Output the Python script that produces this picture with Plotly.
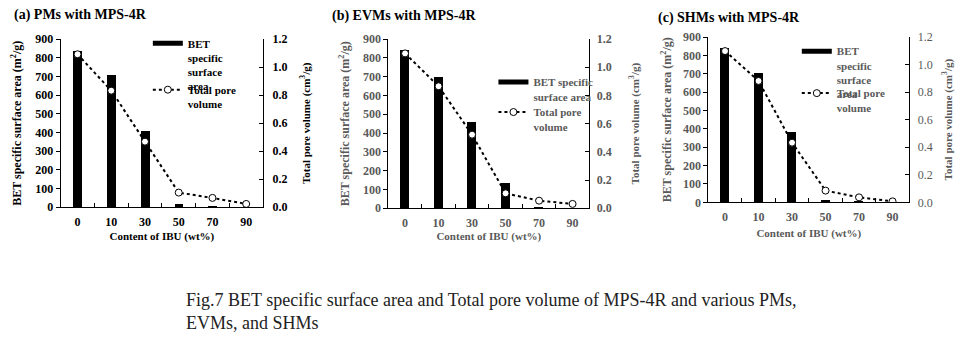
import plotly.graph_objects as go

CATEGORIES = ["0", "10", "30", "50", "70", "90"]

# BET specific surface area (m2/g)
BET_PM = [837, 709, 409, 14, 5, 0]
BET_EVM = [840, 700, 459, 133, 5, 0]
BET_SHM = [842, 702, 381, 11, 4, 0]

# Total pore volume (cm3/g)
TPV_PM = [1.093, 0.833, 0.469, 0.105, 0.067, 0.024]
TPV_EVM = [1.098, 0.865, 0.522, 0.106, 0.054, 0.031]
TPV_SHM = [1.098, 0.881, 0.433, 0.085, 0.036, 0.007]

TITLES = ["(a) PMs with MPS-4R", "(b) EVMs with MPS-4R", "(c) SHMs with MPS-4R"]
BET_NAMES = [
    "BET<br>specific<br>surface<br>area",
    "BET specific<br>surface area",
    "BET<br>specific<br>surface<br>area",
]
TPV_NAME = "Total pore<br>volume"

SERIF = "Liberation Serif"
GREY = "#595959"

# panel geometry in paper coords: x domain, y domain, text colour
PANELS = [
    ([0.0632, 0.2740], [0.3974, 0.8858], "black"),
    ([0.4045, 0.6139], [0.3945, 0.8866], GREY),
    ([0.7378, 0.9472], [0.4119, 0.8924], GREY),
]
# (x, y) of the bar legend and the line legend of each panel
LEGEND_BAR = [(0.154, 0.914), (0.514, 0.801), (0.830, 0.891)]
LEGEND_LINE = [(0.154, 0.779), (0.514, 0.714), (0.830, 0.769)]
TITLE_POS = [(0.0837, 0.956), (0.4212, 0.953), (0.7595, 0.947)]
XTITLE_STANDOFF = [4, 0, 6]
LTITLE_STANDOFF = [11, 10, 8]
RTITLE_STANDOFF = [15, 20, 12]
RTICK_STANDOFF = [6, 4, 5]

bets = [BET_PM, BET_EVM, BET_SHM]
tpvs = [TPV_PM, TPV_EVM, TPV_SHM]

fig = go.Figure()
layout = {}

for i in range(3):
    xd, yd, col = PANELS[i]
    xname = "x" if i == 0 else f"x{i + 1}"
    yl = 2 * i + 1
    yr = 2 * i + 2
    yl_name = "y" if yl == 1 else f"y{yl}"
    yr_name = f"y{yr}"
    leg_bar = "legend" if i == 0 else f"legend{2 * i + 1}"
    leg_line = f"legend{2 * i + 2}"

    fig.add_trace(go.Bar(
        x=CATEGORIES, y=bets[i], xaxis=xname, yaxis=yl_name,
        width=0.26, marker=dict(color="black", line=dict(width=0)),
        name=BET_NAMES[i], showlegend=False,
    ))
    # legend proxy so the key shows a wide flat bar like the original
    fig.add_trace(go.Scatter(
        x=[None], y=[None], xaxis=xname, yaxis=yl_name, mode="lines",
        line=dict(color="black", width=5), name=BET_NAMES[i], legend=leg_bar,
    ))
    fig.add_trace(go.Scatter(
        x=CATEGORIES, y=tpvs[i], xaxis=xname, yaxis=yr_name,
        mode="lines+markers", name=TPV_NAME, legend=leg_line,
        line=dict(color="black", width=2, dash="dot"),
        marker=dict(symbol="circle", size=7, color="white",
                    line=dict(color="black", width=1)),
    ))

    tickfont = dict(family=SERIF, size=12, color=col, weight="bold")
    rtick = dict(tickfont) if i < 2 else dict(family=SERIF, size=12, color=col)

    xkey = "xaxis" if i == 0 else f"xaxis{i + 1}"
    layout[xkey] = dict(
        domain=xd, anchor=yl_name, type="category", automargin=False,
        range=[-0.5, 5.5], showline=True, linecolor="black", linewidth=1,
        ticks="inside", tickson="boundaries", ticklen=4, tickcolor="black",
        tickfont=tickfont, showgrid=False, zeroline=False, ticklabelstandoff=3,
        title=dict(text="Content of IBU (wt%)",
                   font=dict(family=SERIF, size=11, color=col, weight="bold"),
                   standoff=XTITLE_STANDOFF[i]),
    )
    ylkey = "yaxis" if yl == 1 else f"yaxis{yl}"
    layout[ylkey] = dict(
        domain=yd, anchor=xname, range=[0, 900], dtick=100, automargin=False,
        showline=True, linecolor="black", linewidth=1,
        ticks="outside", ticklen=4, tickcolor="black",
        tickfont=tickfont, showgrid=False, zeroline=False,
        title=dict(text="BET specific surface area (m<sup>2</sup>/g)",
                   font=dict(family=SERIF, size=12, color=col, weight="bold"),
                   standoff=LTITLE_STANDOFF[i]),
    )
    layout[f"yaxis{yr}"] = dict(
        overlaying=yl_name, anchor=xname, side="right", automargin=False,
        range=[0, 1.2], dtick=0.2, tickformat=".1f",
        showline=True, linecolor="black", linewidth=1,
        ticks="inside", ticklen=4, tickcolor="black",
        tickfont=rtick, showgrid=False, zeroline=False,
        ticklabelstandoff=RTICK_STANDOFF[i],
        title=dict(text="Total pore volume (cm<sup>3</sup>/g)",
                   font=dict(family=SERIF, size=11, color=col, weight="bold"),
                   standoff=RTITLE_STANDOFF[i]),
    )
    for key, (lx, ly) in ((leg_bar, LEGEND_BAR[i]), (leg_line, LEGEND_LINE[i])):
        layout[key] = dict(
            x=lx, y=ly, xanchor="left", yanchor="top",
            bgcolor="rgba(0,0,0,0)", borderwidth=0,
            font=dict(family=SERIF, size=11, color=col, weight="bold"),
            itemwidth=30, valign="top",
        )

annotations = []
for i in range(3):
    tx, ty = TITLE_POS[i]
    annotations.append(dict(
        text=TITLES[i], x=tx, y=ty, xref="paper", yref="paper",
        xanchor="center", yanchor="middle", showarrow=False,
        font=dict(family=SERIF, size=14, color="black", weight="bold"),
    ))
annotations.append(dict(
    text="Fig.7 BET specific surface area and Total pore volume of MPS-4R and various PMs,"
         "<br>EVMs, and SHMs",
    x=0.5115, y=0.094, xref="paper", yref="paper",
    xanchor="center", yanchor="middle", align="left", showarrow=False,
    font=dict(family=SERIF, size=18, color="#222222"),
))

fig.update_layout(
    **layout,
    annotations=annotations,
    width=960, height=344,
    margin=dict(l=0, r=0, t=0, b=0),
    paper_bgcolor="white", plot_bgcolor="white",
    showlegend=True, bargap=0,
)

# drop the browser's default page margin so the figure sits at the window corner
fig.write_html(
    "out.html",
    config={"displayModeBar": False},
    post_script="document.body.style.margin = '0';",
)
